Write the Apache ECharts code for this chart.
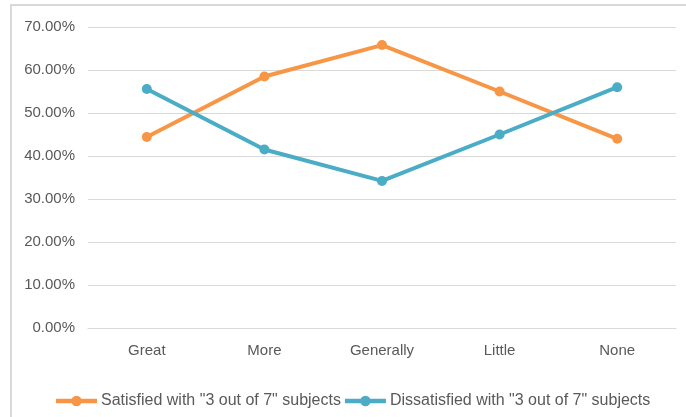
<!DOCTYPE html>
<html>
<head>
<meta charset="utf-8">
<script src="https://cdn.jsdelivr.net/npm/echarts@6/dist/echarts.min.js"></script>
<style>
  html, body { margin: 0; padding: 0; background: #ffffff; }
  #chart { width: 686px; height: 417px; }
</style>
</head>
<body>
<div id="chart"></div>
<script>
// Survey categories along the x axis
const categories = ['Great', 'More', 'Generally', 'Little', 'None'];

// Share of respondents (%) per category
const satisfied = [44.4, 58.5, 65.8, 55.0, 44.0];
const dissatisfied = [55.6, 41.5, 34.2, 45.0, 56.0];

const seriesNames = [
  'Satisfied with "3 out of 7" subjects',
  'Dissatisfied with "3 out of 7" subjects'
];

// Value axis range
const yMin = 0;
const yMax = 70;
const yStep = 10;

const FONT = 'Liberation Sans';
const TEXT = '#595959';
const GRID = '#D9D9D9';
const ORANGE = '#F79646';
const TEAL = '#4BACC6';

// Legend marker: thick line segment with a dot in the middle
const LEGEND_ICON = 'path://M0,3 L41,3 L41,7.5 L0,7.5 Z ' +
  'M15.25,5.25 A5.25,5.25 0 1,1 25.75,5.25 A5.25,5.25 0 1,1 15.25,5.25 Z';

const chart = echarts.init(document.getElementById('chart'), null, { renderer: 'canvas' });

function lineSeries(name, data, color) {
  return {
    name: name,
    type: 'line',
    data: data,
    symbol: 'circle',
    symbolSize: 10,
    lineStyle: { color: color, width: 4 },
    itemStyle: { color: color },
    emphasis: { disabled: true },
    animation: false
  };
}

chart.setOption({
  backgroundColor: '#ffffff',
  animation: false,
  textStyle: { fontFamily: FONT, color: TEXT },
  graphic: [{
    type: 'rect',
    shape: { x: 11, y: 5, width: 700, height: 440 },
    style: { fill: 'none', stroke: GRID, lineWidth: 2 },
    silent: true
  }],
  grid: { left: 88, right: 10, top: 27, bottom: 89, containLabel: false },
  xAxis: {
    type: 'category',
    data: categories,
    boundaryGap: true,
    axisLine: { show: true, lineStyle: { color: GRID, width: 1 } },
    axisTick: { show: false },
    axisLabel: { color: TEXT, fontFamily: FONT, fontSize: 15, margin: 15 }
  },
  yAxis: {
    type: 'value',
    min: yMin,
    max: yMax,
    interval: yStep,
    axisLine: { show: false },
    axisTick: { show: false },
    splitLine: { lineStyle: { color: GRID, width: 1 } },
    axisLabel: {
      color: TEXT, fontFamily: FONT, fontSize: 15, margin: 13,
      formatter: v => v.toFixed(2) + '%'
    }
  },
  legend: {
    bottom: 3,
    left: 51,
    itemWidth: 41,
    itemHeight: 10.5,
    itemGap: 4,
    icon: LEGEND_ICON,
    textStyle: { color: TEXT, fontFamily: FONT, fontSize: 16, padding: [0, 0, 0, -1] },
    data: seriesNames
  },
  series: [
    lineSeries(seriesNames[0], satisfied, ORANGE),
    lineSeries(seriesNames[1], dissatisfied, TEAL)
  ]
});
</script>
</body>
</html>
